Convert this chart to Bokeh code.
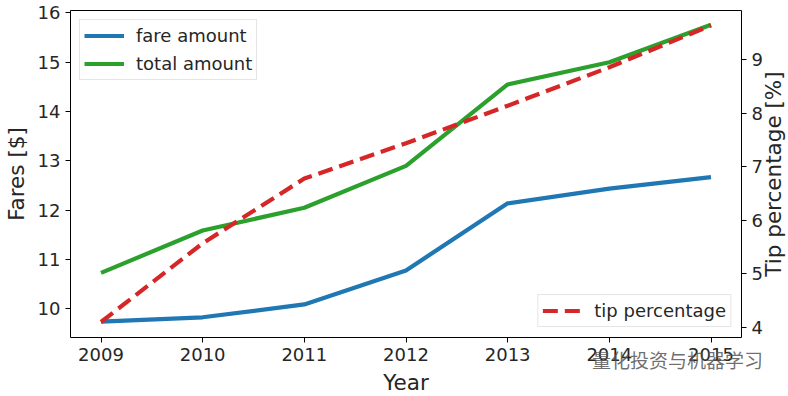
import math
from bokeh.plotting import figure
from bokeh.models import (Range1d, LinearAxis, FixedTicker, Legend, LegendItem, Label)
from bokeh.embed import file_html
from bokeh.resources import INLINE

years = [2009, 2010, 2011, 2012, 2013, 2014, 2015]
fare_amount = [9.74, 9.83, 10.09, 10.78, 12.14, 12.44, 12.67]
total_amount = [10.73, 11.59, 12.05, 12.90, 14.55, 15.00, 15.76]
tip_percentage = [4.10, 5.57, 6.78, 7.44, 8.14, 8.86, 9.64]

left_ticks = [10, 11, 12, 13, 14, 15, 16]
right_ticks = [4, 5, 6, 7, 8, 9]

FONT = "DejaVu Sans"
TICK_SIZE = "18px"
LABEL_SIZE = "21.5px"
TXT = "#262626"

X_LO, X_HI = 2008.7, 2015.3
Y_LO, Y_HI = 9.42, 16.05

p = figure(frame_width=671, frame_height=327,
           x_range=Range1d(X_LO, X_HI), y_range=Range1d(Y_LO, Y_HI),
           output_backend="svg", toolbar_location=None,
           min_border_left=67, min_border_right=50, min_border_top=10, min_border_bottom=59)
p.extra_y_ranges = {"tip": Range1d(3.81, 9.92)}

p.xgrid.visible = False
p.ygrid.visible = False
p.outline_line_color = "black"
p.outline_line_width = 1
p.background_fill_color = "white"
p.border_fill_color = "white"

def style_axis(ax, label_standoff=6):
    ax.axis_line_color = None
    ax.major_tick_out = 5
    ax.major_tick_in = 0
    ax.minor_tick_line_color = None
    ax.major_tick_line_color = "black"
    ax.major_label_text_font = FONT
    ax.major_label_text_font_size = TICK_SIZE
    ax.major_label_text_color = TXT
    ax.axis_label_text_font = FONT
    ax.axis_label_text_font_size = LABEL_SIZE
    ax.axis_label_text_font_style = "normal"
    ax.axis_label_text_color = TXT
    ax.major_label_standoff = 5
    ax.axis_label_standoff = label_standoff

p.xaxis.ticker = FixedTicker(ticks=years)
p.xaxis.axis_label = "Year"
p.yaxis.ticker = FixedTicker(ticks=left_ticks)
p.yaxis.axis_label = "Fares [$]"
style_axis(p.xaxis[0])
style_axis(p.yaxis[0])

raxis = LinearAxis(y_range_name="tip", ticker=FixedTicker(ticks=right_ticks))
style_axis(raxis)
p.add_layout(raxis, "right")

# right axis title, reading bottom-to-top as in the reference
px_per_x = 671 / (X_HI - X_LO)
rlabel = Label(x=X_HI + 32 / px_per_x, y=(Y_LO + Y_HI) / 2, text="Tip percentage [%]",
               angle=math.pi / 2, text_align="center", text_baseline="middle",
               text_font=FONT, text_font_size=LABEL_SIZE, text_color=TXT)
p.add_layout(rlabel, "right")

r_fare = p.line(years, fare_amount, line_color="#1f77b4", line_width=4.2)
r_total = p.line(years, total_amount, line_color="#2ca02c", line_width=4.2)
r_tip = p.line(years, tip_percentage, line_color="#d62728", line_width=4.2,
               line_dash="15 7", y_range_name="tip")

def style_legend(lg, margin=9):
    lg.label_text_font = FONT
    lg.label_text_font_size = TICK_SIZE
    lg.label_text_color = TXT
    lg.border_line_color = "#cccccc"
    lg.border_line_width = 1
    lg.background_fill_alpha = 0.8
    lg.margin = margin
    lg.padding = 4
    lg.spacing = 5
    lg.glyph_width = 40
    lg.glyph_height = 23
    lg.label_height = 23
    lg.label_standoff = 12

lg1 = Legend(items=[LegendItem(label="fare amount", renderers=[r_fare]),
                    LegendItem(label="total amount", renderers=[r_total])],
             location="top_left")
style_legend(lg1)
lg2 = Legend(items=[LegendItem(label="tip percentage", renderers=[r_tip])],
             location="bottom_right")
style_legend(lg2, margin=10)
p.add_layout(lg1)
p.add_layout(lg2)

wm = Label(x=2013.83, y=8.98, text="量化投资与机器学习", text_font="Noto Sans CJK SC",
           text_font_size="19px", text_color="#555555", text_alpha=0.85,
           text_baseline="middle", text_align="left")
p.add_layout(wm, "below")

open("out.html", "w").write(file_html(p, INLINE))
